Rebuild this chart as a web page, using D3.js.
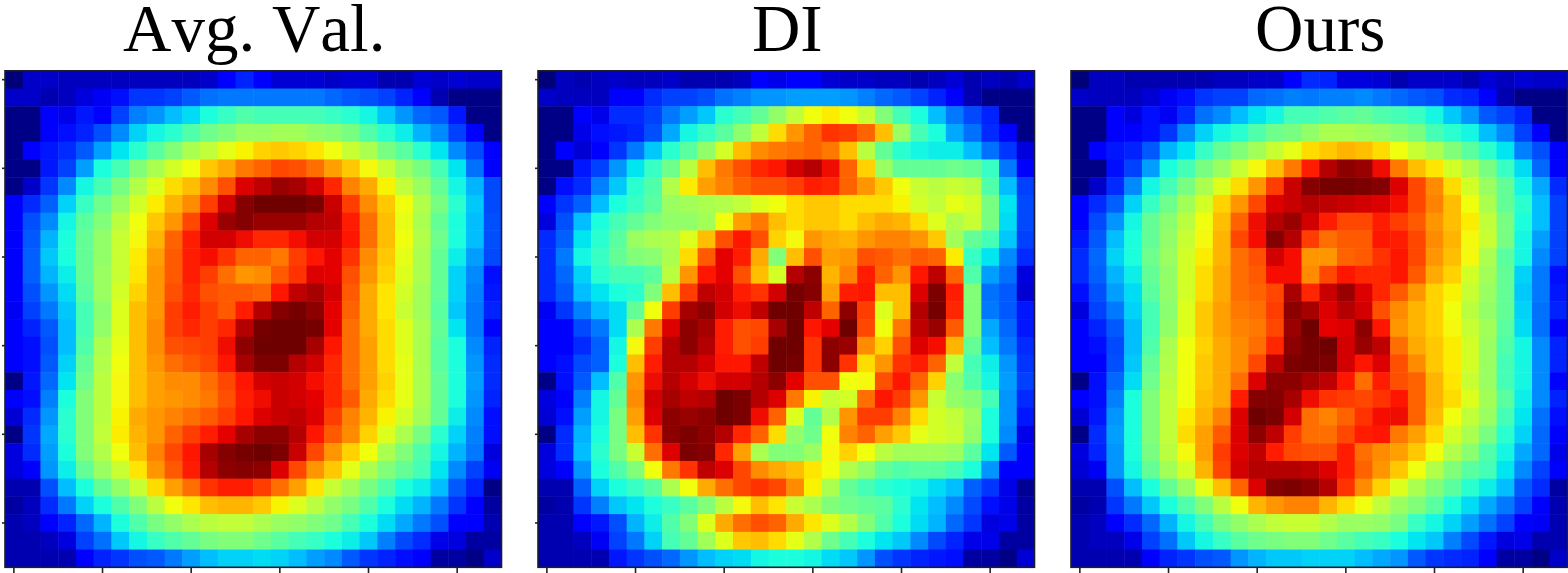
<!DOCTYPE html>
<html>
<head>
<meta charset="utf-8">
<script src="https://cdn.jsdelivr.net/npm/d3@7"></script>
<style>
  html, body { margin: 0; background: #fff; overflow: hidden; }
  text { font-family: "Liberation Serif", serif; fill: #000; font-kerning: none; }
</style>
</head>
<body>
<svg id="chart" width="1568" height="573"></svg>
<script>
var titles = ["Avg. Val.", "DI", "Ours"];
var tickValues = [0, 5, 10, 15, 20, 25];

var avgVal = [
  [0,6,6,5,5,5,5,5,5,5,5,6,11,14,11,7,7,7,6,7,7,4,4,7,6,7,6,6],
  [6,6,4,5,8,10,12,16,16,17,20,23,24,24,24,24,24,24,22,20,19,17,14,11,4,1,1,1],
  [1,1,11,9,13,11,17,25,27,31,34,38,40,42,41,41,41,41,40,39,37,32,27,22,20,13,1,1],
  [1,1,11,12,14,19,26,33,37,39,42,45,47,50,50,51,51,49,48,46,42,39,36,30,26,17,11,1],
  [1,11,13,15,20,28,35,39,43,47,52,55,59,62,66,67,66,64,60,56,52,46,43,39,35,26,18,11],
  [1,1,13,17,28,38,41,47,52,57,60,67,70,75,77,80,79,76,71,67,61,56,50,46,41,35,23,11],
  [1,6,16,26,37,41,46,53,58,65,68,73,79,89,92,95,94,90,83,74,70,62,55,50,44,37,30,18],
  [11,15,21,33,40,45,50,57,63,69,73,81,90,97,100,100,100,98,91,81,73,67,60,53,46,39,32,18],
  [11,19,26,37,43,47,54,60,67,72,80,89,95,97,95,95,95,93,92,84,76,68,59,52,44,38,31,19],
  [11,20,30,38,44,49,56,61,69,77,84,90,90,87,83,83,86,90,90,85,76,68,60,53,45,38,31,19],
  [11,21,32,38,44,49,56,63,71,78,84,86,82,77,77,75,81,85,88,82,73,67,59,52,44,36,28,18],
  [11,21,30,36,44,50,56,64,72,78,84,81,76,72,73,78,82,89,88,79,72,66,58,52,44,33,26,12],
  [11,19,27,34,43,50,57,66,72,79,83,79,78,78,77,85,92,94,90,78,70,64,57,51,44,33,25,13],
  [10,17,24,32,41,48,58,68,72,81,84,81,78,84,93,97,99,96,88,77,70,64,56,51,43,32,24,14],
  [11,14,20,31,41,49,58,68,73,81,83,81,83,93,99,100,100,99,88,76,70,65,58,52,44,35,24,11],
  [11,12,19,31,42,52,59,68,73,79,80,81,87,96,100,100,100,94,85,76,71,65,58,52,43,38,26,14],
  [11,12,20,33,44,53,60,68,72,76,78,80,85,94,98,98,93,90,83,76,71,65,59,52,43,38,27,15],
  [1,13,22,35,45,54,61,68,71,73,73,76,80,85,90,91,90,86,83,76,71,66,59,52,44,38,28,15],
  [11,12,25,38,47,54,61,68,71,72,73,75,79,84,87,91,90,88,83,78,70,65,59,52,44,38,27,14],
  [7,15,27,39,47,54,62,70,72,74,76,78,81,85,89,91,92,89,81,74,69,62,57,51,44,36,26,12],
  [1,16,29,39,47,55,63,69,72,77,81,84,88,94,96,96,93,85,78,73,66,58,52,46,39,33,25,12],
  [8,15,28,38,47,53,60,68,74,80,85,94,97,99,100,98,91,80,72,66,60,52,47,42,37,30,24,8],
  [8,11,27,36,44,50,56,64,72,78,84,93,96,97,96,89,80,72,67,59,52,47,44,41,35,26,17,10],
  [4,4,19,31,38,44,49,56,65,71,76,82,84,84,81,76,71,64,56,51,46,42,38,36,31,20,14,1],
  [3,5,15,24,33,38,42,47,54,60,64,68,69,69,67,62,58,54,49,46,42,38,34,30,24,16,11,3],
  [4,5,11,14,22,30,38,42,46,49,52,54,55,55,52,50,49,47,45,41,38,34,29,24,19,11,11,4],
  [4,4,5,8,17,23,32,37,40,42,44,46,47,47,45,43,41,40,38,36,32,25,18,15,9,8,3,3],
  [4,4,4,4,11,14,16,19,20,24,28,31,33,33,34,33,31,28,26,20,16,14,12,11,3,3,1,6]
];

var diVal = [
  [0,5,4,5,6,5,5,6,4,4,4,5,11,9,11,11,7,6,6,5,5,4,5,7,4,5,4,6],
  [6,5,5,5,11,11,15,17,17,19,23,25,27,27,28,28,28,27,25,22,20,17,14,11,4,1,1,1],
  [1,1,11,9,15,15,17,24,28,32,39,41,44,49,55,60,63,60,56,47,41,38,31,24,18,14,1,1],
  [1,1,9,12,13,14,19,29,37,40,43,48,55,65,72,77,82,81,77,68,50,41,38,29,23,15,11,1],
  [1,11,7,11,16,24,32,39,43,49,57,68,73,75,76,77,75,68,54,44,39,37,36,36,31,23,16,8],
  [1,1,13,17,27,35,40,45,54,68,75,79,83,85,90,93,87,77,66,50,44,44,44,45,44,40,24,11],
  [1,12,15,25,32,39,42,53,63,71,74,77,79,79,81,84,83,77,72,67,60,56,54,56,54,42,31,17],
  [11,16,21,31,38,40,43,50,51,52,53,55,58,60,65,67,67,65,65,65,62,57,55,59,57,46,35,18],
  [8,19,31,38,41,44,47,49,49,51,60,71,75,68,65,67,67,65,68,70,69,65,58,53,56,46,34,18],
  [15,21,35,39,43,50,52,53,58,68,79,85,79,66,61,72,70,69,72,74,74,72,67,51,44,41,32,17],
  [15,24,37,40,44,47,48,52,65,78,88,84,70,47,68,79,71,72,79,78,76,78,77,63,40,35,26,15],
  [15,22,33,39,41,41,43,54,72,85,88,79,68,57,93,96,69,74,84,77,72,85,92,77,42,28,23,8],
  [15,20,31,35,38,39,47,68,81,92,90,84,82,90,99,97,71,84,85,68,68,89,98,84,47,23,20,7],
  [10,16,25,31,34,44,60,81,94,96,90,87,92,100,100,92,77,96,81,58,68,93,99,83,47,24,20,13],
  [11,11,18,24,34,52,75,89,96,94,84,79,80,94,100,85,88,100,80,60,75,92,95,78,47,29,22,13],
  [11,11,15,21,37,61,81,93,96,93,84,79,81,100,100,82,96,95,73,66,79,89,86,69,44,31,24,15],
  [11,12,18,21,38,68,84,93,93,90,85,85,92,100,99,82,96,82,65,72,82,84,77,55,41,36,27,16],
  [1,12,20,31,42,72,87,93,90,87,90,90,93,96,88,79,79,60,61,79,85,77,66,48,42,37,28,17],
  [8,11,25,37,44,73,90,94,92,93,100,98,93,89,75,62,56,57,76,85,81,72,56,49,47,41,27,15],
  [7,12,28,37,46,71,89,96,95,96,100,98,87,77,58,44,53,72,81,81,74,65,57,55,50,38,27,13],
  [1,15,30,38,46,68,82,96,98,96,93,83,77,65,49,45,60,74,77,71,67,59,57,56,49,38,26,9],
  [8,15,31,39,46,56,76,89,98,97,83,71,52,47,47,50,61,66,60,54,51,51,51,50,43,35,20,11],
  [8,11,27,38,42,47,60,75,82,92,89,80,73,70,68,64,60,53,49,44,42,43,43,41,38,27,11,11],
  [4,4,21,33,38,40,43,52,60,70,76,80,82,80,73,62,52,44,41,39,38,37,34,31,21,16,9,2],
  [3,4,16,25,32,35,38,40,43,47,54,61,68,64,56,52,47,45,44,43,39,35,31,26,18,12,9,3],
  [4,4,11,13,19,30,36,42,47,58,70,76,79,77,70,64,58,53,47,42,38,34,30,22,16,8,9,3],
  [4,4,5,10,17,24,33,41,44,51,58,67,68,65,59,53,45,41,38,35,32,26,18,14,9,9,3,3],
  [4,4,4,4,13,16,19,22,27,31,33,34,37,38,38,37,34,32,27,19,16,14,13,12,3,3,1,7]
];

var oursVal = [
  [0,5,5,4,4,4,4,4,5,5,6,6,11,15,14,8,8,7,4,6,6,6,4,7,5,7,6,6],
  [6,5,5,5,7,10,12,16,17,17,22,23,25,24,25,25,26,24,22,20,19,15,14,11,4,1,1,1],
  [1,1,11,8,12,10,15,23,26,31,35,37,41,41,42,43,44,42,41,40,37,32,27,20,17,14,1,1],
  [1,1,11,11,12,16,26,33,37,39,42,45,46,49,52,52,51,50,48,46,41,39,37,31,26,17,11,1],
  [1,11,13,14,20,30,35,40,44,47,51,56,59,65,67,69,68,65,60,56,52,47,43,39,35,25,19,11],
  [1,1,12,17,28,38,41,46,50,56,61,68,75,84,93,96,95,87,75,68,64,57,52,46,40,34,22,11],
  [1,6,15,26,37,41,46,52,58,65,72,81,91,97,99,99,98,97,89,80,73,65,57,50,44,37,29,15],
  [11,15,21,33,40,45,51,57,66,72,80,89,91,93,92,91,90,89,86,80,74,68,60,52,44,39,31,17],
  [11,18,27,37,44,48,54,60,68,77,87,93,95,90,84,80,80,84,81,78,72,68,63,55,46,38,31,17],
  [13,20,31,38,44,49,56,61,69,80,86,97,93,81,76,78,78,85,84,80,73,69,61,56,46,37,28,17],
  [15,22,33,38,45,50,57,63,69,76,79,90,86,72,72,77,78,82,85,80,72,68,61,52,43,37,26,17],
  [15,21,30,36,44,49,57,65,70,76,78,86,86,73,80,85,83,83,85,78,70,66,57,51,44,33,24,12],
  [12,19,28,34,43,49,57,65,70,76,77,80,94,83,91,95,89,83,78,72,66,62,56,50,44,32,24,13],
  [8,17,24,33,41,48,58,67,71,75,76,81,96,94,89,93,90,79,73,69,66,60,54,49,44,33,23,14],
  [11,14,20,31,41,49,58,67,71,74,75,80,95,100,88,89,96,85,72,69,66,61,56,51,43,34,23,11],
  [11,12,18,31,42,52,60,66,70,73,76,83,96,99,100,90,95,92,76,70,67,63,57,50,42,37,26,14],
  [11,11,19,32,44,53,60,67,70,73,80,92,98,99,98,90,85,89,79,73,67,63,57,50,41,37,26,14],
  [1,12,22,34,45,54,60,67,70,76,89,96,96,94,92,85,76,84,79,77,69,64,56,50,41,37,26,11],
  [11,12,25,38,47,55,60,68,70,84,97,97,94,87,82,81,80,82,85,77,69,65,58,51,43,36,26,14],
  [7,13,27,38,47,55,63,69,74,89,100,98,90,76,74,77,82,86,87,77,68,60,55,50,41,35,23,12],
  [1,15,28,38,47,55,65,71,78,89,96,92,81,76,76,80,84,85,75,71,65,57,52,46,39,33,22,11],
  [8,14,27,38,46,54,61,71,81,89,92,84,80,79,79,84,76,73,71,67,60,53,48,42,37,29,22,9],
  [7,10,27,37,44,51,57,69,80,90,93,93,93,92,89,84,77,72,67,60,53,47,43,41,35,26,17,11],
  [4,4,19,31,38,44,50,59,68,77,89,97,98,96,93,82,73,66,58,52,47,43,39,36,31,20,15,3],
  [3,4,16,24,32,38,42,47,54,60,69,72,74,74,69,65,60,55,50,47,43,38,34,29,24,17,11,4],
  [4,5,11,15,22,30,37,41,46,49,52,55,56,56,53,50,50,49,46,40,37,33,28,23,17,11,10,4],
  [4,5,5,9,17,23,32,37,40,43,45,46,47,47,45,43,41,40,38,35,32,25,18,13,8,9,4,4],
  [4,4,4,4,11,14,16,19,20,27,30,32,32,33,33,33,31,29,27,20,16,15,14,11,3,3,1,6]
];

var panelData = [avgVal, diVal, oursVal];
var panelLefts = [5, 538, 1071];
var panelSize = 496.5;
var panelTop = 70.8;

// jet ramp, stops picked to match how the cells
var colorStops = [0, 5, 11, 17, 25, 31, 35, 38, 42, 47, 52, 56, 60, 64, 68, 73, 77, 81, 85, 89, 93, 96, 100];
var colorRamp = ["#000078", "#0000be", "#0000ff", "#0040ff", "#0080ff", "#00beff", "#00e6f0", "#1effdc", "#50ffaa", "#82ff78", "#aaff50", "#c8ff32", "#f0ff0a", "#ffe600", "#ffbe00", "#ff8c00", "#ff6400", "#ff3c00", "#ff1400", "#dc0000", "#b40000", "#8c0000", "#6e0000"];
var color = d3.scaleLinear().domain(colorStops).range(colorRamp).clamp(true);

var svg = d3.select("#chart");

// the source is a resampled raster, edges are a little soft
svg.append("defs").append("filter")
    .attr("id", "soft")
    .attr("x", "0").attr("y", "0").attr("width", "100%").attr("height", "100%")
  .append("feGaussianBlur")
    .attr("stdDeviation", 0.7);

panelData.forEach(function (rows, p) {
  var cols = d3.range(28);
  var x = d3.scaleBand().domain(cols).range([0, panelSize]);
  var y = d3.scaleBand().domain(cols).range([0, panelSize]);

  var g = svg.append("g")
      .attr("transform", "translate(" + panelLefts[p] + "," + panelTop + ")");

  g.append("g")
      .attr("filter", "url(#soft)")
    .selectAll("g")
    .data(rows)
    .enter().append("g")
    .each(function (row, r) {
      d3.select(this).selectAll("rect")
        .data(row)
        .enter().append("rect")
          .attr("x", function (d, c) { return x(c); })
          .attr("y", y(r))
          .attr("width", x.bandwidth() + 0.5)
          .attr("height", y.bandwidth() + 0.5)
          .attr("fill", function (d) { return color(d); });
    });

  g.append("rect")
      .attr("width", panelSize)
      .attr("height", panelSize)
      .attr("fill", "none")
      .attr("stroke", "#1c1c2c")
      .attr("stroke-width", 1.6);

  var bottomAxis = d3.axisBottom(x).tickValues(tickValues).tickSize(6).tickFormat("");
  g.append("g")
      .attr("transform", "translate(0," + panelSize + ")")
      .call(bottomAxis)
      .call(function (a) { a.select(".domain").remove(); })
      .selectAll("line").attr("stroke", "#222").attr("stroke-width", 1.6);

  if (p < 2) {
    var leftAxis = d3.axisLeft(y).tickValues(tickValues).tickSize(3).tickFormat("");
    g.append("g")
        .call(leftAxis)
        .call(function (a) { a.select(".domain").remove(); })
        .selectAll("line").attr("stroke", "#222").attr("stroke-width", 1.6);
  }

  svg.append("text")
      .attr("x", panelLefts[p] + panelSize / 2 + 1)
      .attr("y", 51)
      .attr("text-anchor", "middle")
      .attr("font-size", 67)
      .text(titles[p]);
});
</script>
</body>
</html>
